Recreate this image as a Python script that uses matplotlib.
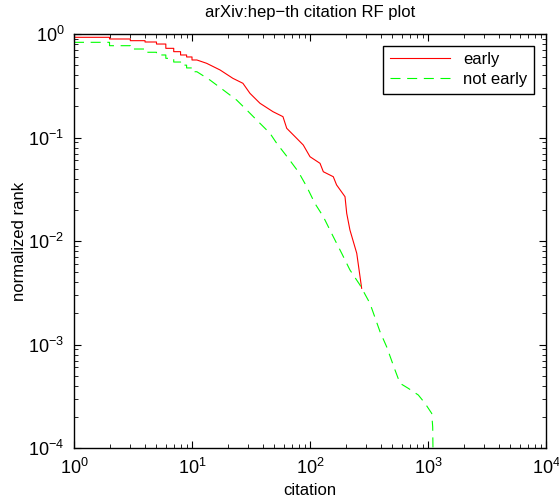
import matplotlib
matplotlib.use("Agg")
import matplotlib.pyplot as plt
import numpy as np

plt.rcParams['font.family'] = ['Liberation Sans', 'DejaVu Sans']

# early: integer citation counts (step part) and the dense tail
early_int_x = [1, 2, 3, 4, 5, 6, 7, 8, 9, 10]
early_int_y = [0.929, 0.895, 0.862, 0.837, 0.80, 0.727, 0.675, 0.627, 0.60, 0.561]
early_x = [13.3, 17.3, 22.2, 27.0, 31.0, 37.7, 48.6, 59.0, 63.5, 77.1, 87.7, 100, 121.6,
           129.7, 157.5, 168, 198, 204.7, 218, 249, 274]
early_y = [0.521, 0.449, 0.373, 0.334, 0.267, 0.214, 0.1775, 0.159, 0.1227, 0.0982, 0.0846,
           0.0652, 0.0563, 0.0467, 0.0418, 0.0348, 0.0268, 0.0185, 0.01277, 0.0076, 0.00349]

# not early
late_int_x = [1, 2, 3, 4, 5, 6, 7, 8, 9, 10]
late_int_y = [0.831, 0.771, 0.716, 0.666, 0.627, 0.582, 0.536, 0.50, 0.47, 0.432]
late_x = [14.2, 18.4, 23.9, 29.1, 35.3, 45.8, 52.2, 65.5, 79.6, 93.8, 110, 129.6, 157.5,
          185.7, 218, 265, 322, 392, 446, 525, 579, 681, 828, 944, 1075, 1096, 1110]
late_y = [0.359, 0.288, 0.230, 0.1844, 0.1476, 0.1098, 0.0879, 0.063, 0.0467, 0.0335, 0.0231,
          0.0172, 0.0110, 0.0076, 0.00525, 0.00376, 0.0025, 0.00133, 0.000952, 0.000568,
          0.000422, 0.000377, 0.000325, 0.00027, 0.000216, 0.00016, 0.00005]


def rank_curve(ix, iy, tx, ty):
    xs, ys = [], []
    for i in range(len(ix)):
        nxt = ix[i + 1] if i + 1 < len(ix) else ix[i] + 1
        xs += [ix[i], nxt]
        ys += [iy[i], iy[i]]
    return xs + list(tx), ys + list(ty)


fig = plt.figure(figsize=(5.59, 5.04), dpi=100)
ax = fig.add_axes([74/559, 1-448/504, (546-74)/559, (448-34)/504])

ex, ey = rank_curve(early_int_x, early_int_y, early_x, early_y)
lx, ly = rank_curve(late_int_x, late_int_y, late_x, late_y)
ax.plot(ex, ey, color=(1, 0, 0), lw=0.8, label='early')
ax.plot(lx, ly, color=(0, 1, 0), lw=0.8, ls=(0, (9, 6)), label='not early')

ax.set_xscale('log')
ax.set_yscale('log')
ax.set_xlim(1, 1e4)
ax.set_ylim(1e-4, 1)

ax.tick_params(which='both', direction='in', top=True, right=True, labelsize=13, pad=7)
ax.tick_params(which='major', length=5, width=0.8)
ax.tick_params(which='minor', length=3, width=0.6)
for s in ax.spines.values():
    s.set_linewidth(1.0)

ax.set_xlabel('citation', fontsize=12, labelpad=4)
ax.set_ylabel('normalized rank', fontsize=12, labelpad=1)
ax.set_title('arXiv:hep\u2212th citation RF plot', fontsize=12, pad=12)

leg = ax.legend(loc='upper right', fontsize=12, handlelength=3.6, fancybox=False,
                edgecolor='black', framealpha=1, borderaxespad=0.7, labelspacing=0.3)
leg.get_frame().set_linewidth(1.0)

fig.savefig('out.png', dpi=100)
